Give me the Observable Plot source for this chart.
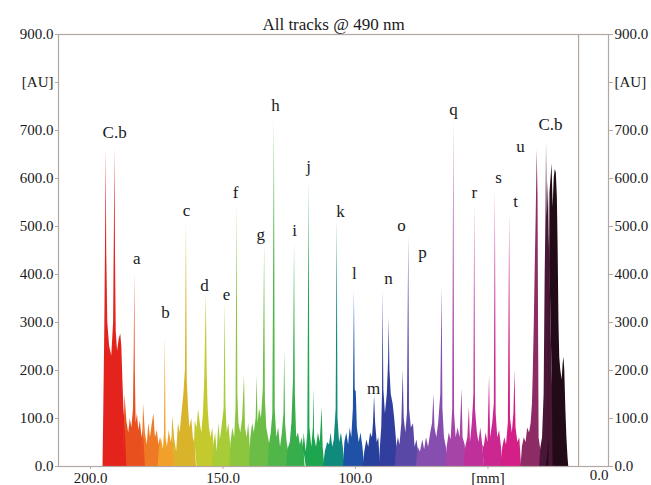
<!DOCTYPE html>
<html><head><meta charset="utf-8">
<script src="https://cdn.jsdelivr.net/npm/d3@7"></script>
<script src="https://cdn.jsdelivr.net/npm/@observablehq/plot@0.6"></script>
<style>
body{margin:0;background:#fff}
</style>
</head><body><div id="chart"></div>
<script>
// ---- data ----
const title = "All tracks @ 490 nm";
const trackNames = ["T1","T2","T3","T4","T5","T6","T7","T8","T9","T10","T11","T12","T13","T14","T15","T16","T17","T18","T19","T20","T21","T22","T23","T24","T25"];
const trackPoints = [
 [[195.3,0],[195,120],[194.6,300],[194.3,500],[194.1,663],[193.9,450],[193.5,300],[192.8,250],[192,230],[191.3,300],[191,500],[190.8,665],[190.6,450],[190.3,280],[189.8,240],[189.2,265],[188.6,276],[188.2,250],[187.8,180],[187.4,120],[187,90],[186.5,70],[186,40],[185.6,0]],
 [[187.5,0],[187,60],[186.3,95],[185.6,70],[185,100],[184.4,80],[183.8,120],[183.5,250],[183.3,404],[183.1,200],[182.8,90],[182.3,110],[181.8,75],[181.2,95],[180.6,60],[180,80],[179.4,40],[179,0]],
 [[180.5,0],[180,50],[179.3,70],[178.6,45],[178,90],[177.4,60],[176.8,85],[176.1,110],[175.5,60],[174.8,75],[174.2,45],[173.6,60],[173,0]],
 [[174.5,0],[174,40],[173.3,60],[172.5,35],[172.1,70],[171.8,272],[171.5,60],[171,40],[170.3,75],[169.6,50],[169,65],[168.4,30],[168,0]],
 [[169.5,0],[169,40],[168.2,55],[167.5,30],[166.8,90],[166.2,70],[165.5,110],[164.8,150],[164.2,200],[163.8,511],[163.5,180],[163,120],[162.5,80],[161.8,100],[161.2,60],[160.5,45],[160,0]],
 [[161,0],[160.5,50],[159.8,80],[159.2,120],[158.6,90],[158,70],[157.4,110],[156.9,180],[156.6,270],[156.3,359],[156,200],[155.6,120],[155.1,80],[154.5,60],[153.9,80],[153.3,40],[152.8,0]],
 [[154,0],[153.5,40],[152.8,70],[152.2,30],[151.6,90],[151,55],[150.4,80],[149.6,120],[149.2,342],[148.9,130],[148.4,70],[147.8,90],[147.2,50],[146.6,0]],
 [[147.5,0],[147,50],[146.3,80],[145.6,60],[145.1,120],[144.7,549],[144.4,150],[144,90],[143.3,70],[142.6,100],[141.9,189],[141.5,80],[140.9,60],[140.3,90],[139.7,40],[139.3,0]],
 [[140,0],[139.5,60],[138.8,90],[138.2,70],[137.5,100],[137.1,189],[136.8,90],[136.2,120],[135.5,100],[134.8,160],[134.3,463],[134,140],[133.5,80],[132.8,60],[132.2,40],[131.8,0]],
 [[133,0],[132.5,45],[131.8,70],[131.2,110],[130.6,725],[130.3,120],[129.7,60],[129,80],[128.3,40],[127.6,70],[127,110],[126.7,241],[126.4,90],[125.8,50],[125.2,30],[124.8,0]],
 [[126,0],[125.5,35],[124.6,50],[124,90],[123.4,180],[123,466],[122.7,150],[122.2,60],[121.5,70],[120.8,45],[120.1,60],[119.4,30],[119,0]],
 [[120,0],[119.4,40],[118.6,30],[118,70],[117.5,598],[117.2,80],[116.5,40],[115.9,80],[115.7,162],[115.4,60],[114.7,40],[114,70],[113.3,50],[112.6,123],[112.2,40],[111.6,0]],
 [[112,0],[111.4,30],[110.5,50],[109.8,45],[109.2,70],[108.6,40],[108,55],[107.3,120],[106.9,518],[106.6,100],[106,50],[105.3,70],[104.6,40],[104,0]],
 [[104.5,0],[104,50],[103.3,70],[102.6,45],[102,80],[101.4,60],[100.8,120],[100.4,366],[100.1,160],[99.7,155],[99.3,80],[98.6,50],[97.9,70],[97.2,40],[96.5,0]],
 [[97,0],[96.5,30],[95.7,55],[95,40],[94.3,70],[93.6,60],[93.2,90],[92.8,148],[92.4,90],[91.8,50],[91.2,60],[90.6,0]],
 [[91,0],[90.6,40],[90.1,80],[89.8,150],[89.6,366],[89.3,160],[88.7,110],[88,150],[87.5,220],[87.3,310],[87,200],[86.5,150],[85.8,130],[85.2,100],[84.6,60],[84,0]],
 [[85,0],[84.5,40],[83.8,60],[83.2,45],[82.5,90],[82,200],[81.6,100],[81,70],[80.4,110],[79.9,480],[79.6,120],[78.9,80],[78.1,89],[77.5,40],[76.8,55],[76.2,30],[75.8,0]],
 [[77,0],[76.3,40],[75.5,30],[74.6,55],[73.9,35],[73.2,60],[72.4,40],[71.6,70],[70.9,90],[70.4,151],[70,80],[69.3,60],[68.6,90],[67.8,150],[67.3,376],[67,120],[66.4,60],[65.7,40],[65,0]],
 [[66,0],[65.4,40],[64.6,70],[63.9,55],[63.3,120],[62.9,722],[62.6,110],[62,60],[61.3,80],[60.5,60],[59.8,162],[59.4,60],[58.6,45],[58,0]],
 [[59,0],[58.4,40],[57.6,60],[57,123],[56.6,50],[55.9,90],[55.3,150],[55,549],[54.7,120],[54,70],[53.4,50],[52.7,80],[52,45],[51.3,0]],
 [[52,0],[51.4,40],[50.7,70],[50,50],[49.4,189],[49,60],[48.2,90],[47.6,130],[47.2,577],[46.9,110],[46.3,60],[45.6,75],[44.9,40],[44.3,0]],
 [[45,0],[44.4,40],[43.6,60],[43,45],[42.3,90],[41.8,529],[41.5,100],[40.8,70],[40.2,110],[39.8,200],[39.4,80],[38.7,50],[38,60],[37.3,0]],
 [[37.5,0],[37,40],[36.3,60],[35.6,50],[35,80],[34.3,70],[33.7,90],[33.2,130],[32.9,193],[32.5,300],[32.2,400],[31.8,520],[31.4,660],[31.1,560],[30.9,300],[30.7,60],[30.2,40],[29.6,30],[29,0]],
 [[30.5,0],[30,40],[29.4,60],[28.8,150],[28.4,400],[28.1,520],[27.9,674],[27.6,520],[27.2,594],[26.9,480],[26.6,420],[26.2,300],[25.8,200],[25.3,100],[24.8,40],[24.3,0]],
 [[28,0],[27.5,20],[27,60],[26.6,150],[26.2,300],[25.8,430],[25.4,540],[25,600],[24.6,619],[24.2,612],[23.8,560],[23.5,450],[23.2,300],[22.9,227],[22.5,200],[22,180],[21.6,215],[21.3,227],[21,200],[20.6,120],[20.2,60],[19.8,20],[19.5,0]]
];
const labelText = ["C.b","a","b","c","d","e","f","g","h","i","j","k","l","m","n","o","p","q","r","s","t","u","C.b"];
const labelX = [190.9,182.6,171.7,163.8,157.0,148.7,145.3,135.8,130.2,123.0,117.7,105.7,100.4,93.2,87.5,82.6,74.7,63.0,55.1,46.0,39.6,37.7,26.4];
const labelY = [696,434,320,534,378,358,570,484,752,491,624,532,401,162,391,503,445,744,570,601,553,667,713];
const yTicks = [0,100,200,300,400,500,600,700,800,900];
const xTicks = [200,150,100,50];
const xDomain = [212.1, 4.5];
const yDomain = [0, 900];
const innerFrameX = 15.8;

// ---- styles ----
const palette = ["#e3231c","#e9501f","#ee7a25","#f2a02c","#d9b42a","#c4c92e","#a7cc38","#8cc63f","#6cbd45","#50b649","#37ae4b","#1ea64f","#108a7c","#1f52a6","#27409b","#323e9d","#5a48a7","#864faf","#a644a8","#c0309b","#cc2790","#d31f86","#8c2b64","#4a1637","#220b17"];
const axisColor = "#b3a7a1";
const textColor = "#1a1a1a";
const serif = "Liberation Serif, serif";

const rows = trackPoints.flatMap((pts, i) => pts.map(([x, y]) => ({track: trackNames[i], x, y})));
const fmtY = d => d === 800 ? "[AU]" : d.toFixed(1);
const fmtX = d => d === 50 ? "[mm]" : d.toFixed(1);

const plot = Plot.plot({
  width: 651, height: 485,
  marginLeft: 58, marginRight: 43, marginTop: 34, marginBottom: 19,
  style: {background: "#fff", fontFamily: serif, fontSize: "15px"},
  x: {domain: xDomain, axis: null},
  y: {domain: yDomain, axis: null},
  color: {domain: trackNames, range: palette},
  marks: [
    Plot.areaY(rows, {x: "x", y: "y", z: "track", fill: "track"}),
    Plot.ruleX([innerFrameX], {stroke: axisColor, strokeWidth: 1.2}),
    Plot.frame({stroke: axisColor, strokeWidth: 1.2}),
    Plot.axisY(yTicks, {anchor: "left", tickFormat: fmtY, tickSize: 3, tickPadding: 2, stroke: axisColor, fill: textColor, fontSize: 15, fontFamily: serif, label: null}),
    Plot.axisY(yTicks, {anchor: "right", tickFormat: fmtY, tickSize: 4, tickPadding: 2, stroke: axisColor, fill: textColor, fontSize: 15, fontFamily: serif, label: null}),
    Plot.axisX(xTicks, {anchor: "bottom", tickFormat: fmtX, tickSize: 3, tickPadding: 3, stroke: axisColor, fill: textColor, fontSize: 15, fontFamily: serif, label: null}),
    Plot.text(labelText, {x: (d, i) => labelX[i], y: (d, i) => labelY[i], text: d => d, fill: textColor, fontSize: 17, fontFamily: serif}),
    Plot.text([title], {frameAnchor: "top", dy: -17, fill: textColor, fontSize: 17, fontFamily: serif}),
    Plot.text(["0.0"], {frameAnchor: "bottom-right", dy: 13, fill: textColor, fontSize: 15, fontFamily: serif})
  ]
});
document.getElementById("chart").appendChild(plot);
</script>
</body></html>
